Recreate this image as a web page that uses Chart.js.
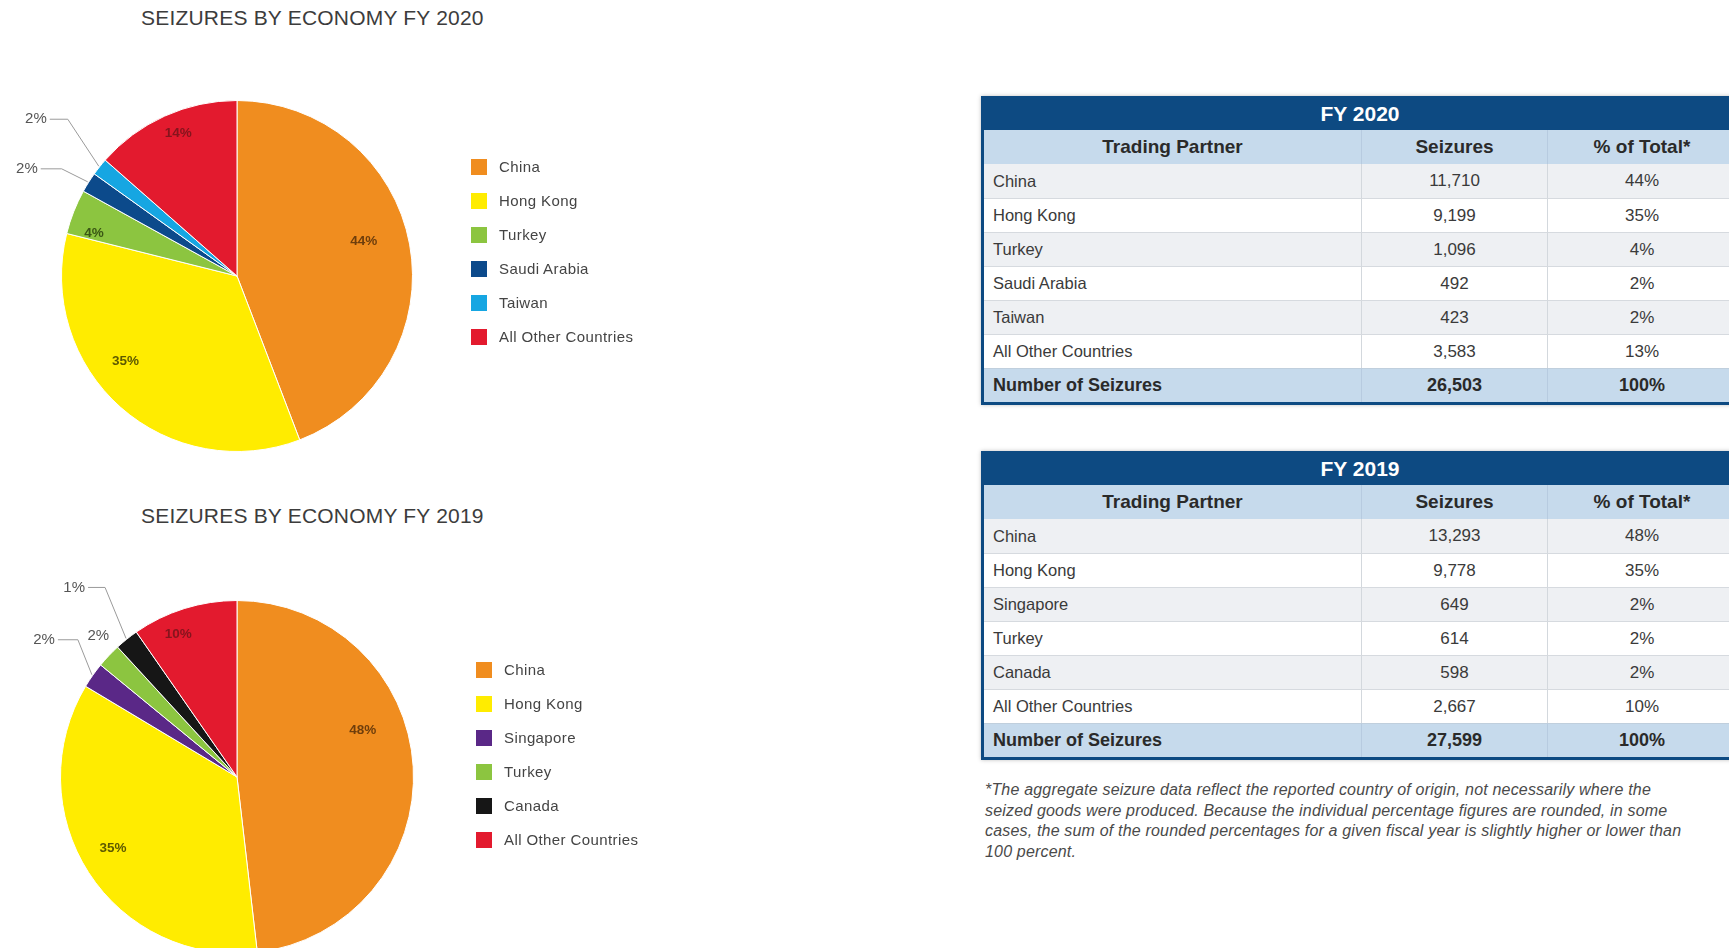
<!DOCTYPE html>
<html>
<head>
<meta charset="utf-8">
<script src="https://cdn.jsdelivr.net/npm/chart.js@4.4.1/dist/chart.umd.min.js"></script>
<style>
  html, body { margin:0; padding:0; width:1729px; height:948px; overflow:hidden; background:#ffffff; font-family:'Liberation Sans', Arial, sans-serif; }
  .abs { position:absolute; }
  .ptitle { position:absolute; font-size:21px; color:#3c3c3c; white-space:nowrap; letter-spacing:0.2px; line-height:24px; }
  .legend { position:absolute; }
  .legend .item { position:absolute; left:0; height:20px; white-space:nowrap; }
  .legend .sw { position:absolute; left:0; top:2px; width:16px; height:16px; }
  .legend .tx { position:absolute; left:28px; top:0; font-size:15px; line-height:20px; color:#444; letter-spacing:0.4px; }
  .tbl { position:absolute; left:981px; width:752px; display:grid; grid-template-columns:377px 186px 189px; border-left:3px solid #0d4a82; border-bottom:3px solid #0d4a82; box-shadow:0 0 4px rgba(0,0,0,0.25); box-sizing:border-box; }
  .tbl div { height:34px; box-sizing:border-box; display:flex; align-items:center; white-space:nowrap; }
  .tbl .cap { grid-column:1 / span 3; background:#0d4a82; color:#ffffff; font-weight:bold; font-size:21px; justify-content:center; padding-top:2px; }
  .tbl .c1 { padding-left:9px; font-size:16.5px; color:#3a3a3a; }
  .tbl .cn { justify-content:center; font-size:17px; color:#3a3a3a; border-left:1px solid #d3d8dd; }
  .tbl .hd { background:#c6daec; font-weight:bold; font-size:19px; color:#2a2a2a; justify-content:center; padding-left:0; }
  .tbl .hd.cn, .tbl .tot.cn { border-left:1px solid #b7cbe0; }
  .tbl .odd { background:#eef0f3; }
  .tbl .even { background:#ffffff; }
  .tbl .row { border-top:1px solid #d6dadf; }
  .tbl .tot { background:#c6daec; font-weight:bold; font-size:18px; color:#2a2a2a; border-top:1px solid #c0cfdd; }
  .note { position:absolute; left:985px; top:780px; font-style:italic; font-size:16px; letter-spacing:0.18px; line-height:20.7px; color:#4a4a4a; white-space:nowrap; }
</style>
</head>
<body>
<div class="ptitle" style="left:141px; top:6px;">SEIZURES BY ECONOMY FY 2020</div>
<div class="ptitle" style="left:141px; top:504px;">SEIZURES BY ECONOMY FY 2019</div>

<canvas id="pie2020" class="abs" width="480" height="560" style="left:0px; top:0px;"></canvas>
<canvas id="pie2019" class="abs" width="480" height="560" style="left:0px; top:480px;"></canvas>

<div id="legend2020" class="legend" style="left:471px; top:157px;"></div>
<div id="legend2019" class="legend" style="left:476px; top:660px;"></div>

<div id="table2020" class="tbl" style="top:96px;"></div>
<div id="table2019" class="tbl" style="top:451px;"></div>

<div class="note">*The aggregate seizure data reflect the reported country of origin, not necessarily where the<br>seized goods were produced. Because the individual percentage figures are rounded, in some<br>cases, the sum of the rounded percentages for a given fiscal year is slightly higher or lower than<br>100 percent.</div>

<script>
// ---------------- DATA ----------------
const categories2020 = ['China', 'Hong Kong', 'Turkey', 'Saudi Arabia', 'Taiwan', 'All Other Countries'];
const seizures2020   = [11710, 9199, 1096, 492, 423, 3583];
const tablePct2020   = ['44%', '35%', '4%', '2%', '2%', '13%'];
const pieLabels2020  = ['44%', '35%', '4%', '2%', '2%', '14%'];

const categories2019 = ['China', 'Hong Kong', 'Singapore', 'Turkey', 'Canada', 'All Other Countries'];
const seizures2019   = [13293, 9778, 649, 614, 598, 2667];
const tablePct2019   = ['48%', '35%', '2%', '2%', '2%', '10%'];
const pieLabels2019  = ['48%', '35%', '2%', '2%', '1%', '10%'];

const tableHeaders = ['Trading Partner', 'Seizures', '% of Total*'];
const totalLabel = 'Number of Seizures';
const totalPct = '100%';

// ---------------- STYLE ----------------
const colors2020 = ['#f08d1f', '#ffec00', '#8cc540', '#0c4a8b', '#16a6e2', '#e31a2e'];
const colors2019 = ['#f08d1f', '#ffec00', '#5a2887', '#8cc540', '#161616', '#e31a2e'];

const labelStyles2020 = [
  { mode:'in', f:0.75, da:-5,  color:'#6e3e0c' },
  { mode:'in', f:0.80, da:11,  color:'#5e5a00' },
  { mode:'in', f:0.85, da:-5,  color:'#3a5714' },
  { mode:'callout', dx:-26, dy:-13, hl:21, color:'#555' },
  { mode:'callout', dx:-31, dy:-47, hl:18, color:'#555' },
  { mode:'in', f:0.88, da:2,   color:'#85141d' }
];
const labelStyles2019 = [
  { mode:'in', f:0.76, da:-17, color:'#6e3e0c' },
  { mode:'in', f:0.81, da:3,   color:'#5e5a00' },
  { mode:'callout', dx:-14, dy:-35, hl:20, color:'#555' },
  { mode:'out', f:1.12, da:2,  color:'#555' },
  { mode:'callout', dx:-21, dy:-51, hl:17, color:'#555' },
  { mode:'in', f:0.875, da:-5, color:'#85141d' }
];

const sliceLabelPlugin = {
  id: 'sliceLabels',
  afterDatasetsDraw(chart, args, opts) {
    const ctx = chart.ctx;
    const meta = chart.getDatasetMeta(0);
    meta.data.forEach((arc, i) => {
      const s = opts.styles[i];
      const text = opts.labels[i];
      const p = arc.getProps(['x', 'y', 'startAngle', 'endAngle', 'outerRadius'], true);
      const mid0 = (p.startAngle + p.endAngle) / 2;
      ctx.save();
      ctx.fillStyle = s.color;
      if (s.mode === 'in' || s.mode === 'out') {
        const mid = mid0 + (s.da || 0) * Math.PI / 180;
        const r = p.outerRadius * s.f;
        ctx.font = (s.mode === 'in' ? 'bold 13.5px' : '15px') + " 'Liberation Sans', Arial, sans-serif";
        ctx.textAlign = 'center';
        ctx.textBaseline = 'middle';
        ctx.fillText(text, p.x + Math.cos(mid) * r, p.y + Math.sin(mid) * r);
      } else {
        const sx = p.x + Math.cos(mid0) * (p.outerRadius + 1);
        const sy = p.y + Math.sin(mid0) * (p.outerRadius + 1);
        const ex = sx + s.dx, ey = sy + s.dy;
        ctx.strokeStyle = '#9a9a9a';
        ctx.lineWidth = 1;
        ctx.beginPath();
        ctx.moveTo(sx, sy);
        ctx.lineTo(ex, ey);
        ctx.lineTo(ex - s.hl, ey);
        ctx.stroke();
        ctx.font = "15px 'Liberation Sans', Arial, sans-serif";
        ctx.textAlign = 'right';
        ctx.textBaseline = 'middle';
        ctx.fillText(text, ex - s.hl - 3, ey);
      }
      ctx.restore();
    });
  }
};

function makePie(id, cats, vals, colors, labels, styles, padding) {
  new Chart(document.getElementById(id), {
    type: 'pie',
    data: {
      labels: cats,
      datasets: [{ data: vals, backgroundColor: colors, borderColor: '#ffffff', borderWidth: 1 }]
    },
    options: {
      responsive: false,
      animation: false,
      layout: { padding: padding },
      plugins: {
        legend: { display: false },
        tooltip: { enabled: false },
        sliceLabels: { labels: labels, styles: styles }
      }
    },
    plugins: [sliceLabelPlugin]
  });
}

makePie('pie2020', categories2020, seizures2020, colors2020, pieLabels2020, labelStyles2020,
        { left: 61, right: 67, top: 100, bottom: 108 });
makePie('pie2019', categories2019, seizures2019, colors2019, pieLabels2019, labelStyles2019,
        { left: 60, right: 66, top: 120, bottom: 86 });

function makeLegend(id, cats, colors) {
  const el = document.getElementById(id);
  cats.forEach((c, i) => {
    const item = document.createElement('div');
    item.className = 'item';
    item.style.top = (i * 34) + 'px';
    item.innerHTML = '<div class="sw" style="background:' + colors[i] + '"></div><div class="tx">' + c + '</div>';
    el.appendChild(item);
  });
}
makeLegend('legend2020', categories2020, colors2020);
makeLegend('legend2019', categories2019, colors2019);

function fmt(n) { return n.toLocaleString('en-US'); }

function makeTable(id, year, cats, vals, pcts) {
  const el = document.getElementById(id);
  let h = '<div class="cap">FY ' + year + '</div>';
  h += '<div class="hd">' + tableHeaders[0] + '</div><div class="hd cn">' + tableHeaders[1] + '</div><div class="hd cn">' + tableHeaders[2] + '</div>';
  cats.forEach((c, i) => {
    const cls = (i % 2 === 0 ? 'odd' : 'even') + (i > 0 ? ' row' : '');
    h += '<div class="c1 ' + cls + '">' + c + '</div>';
    h += '<div class="cn ' + cls + '">' + fmt(vals[i]) + '</div>';
    h += '<div class="cn ' + cls + '">' + pcts[i] + '</div>';
  });
  const total = vals.reduce((a, b) => a + b, 0);
  h += '<div class="c1 tot">' + totalLabel + '</div><div class="cn tot">' + fmt(total) + '</div><div class="cn tot">' + totalPct + '</div>';
  el.innerHTML = h;
}
makeTable('table2020', 2020, categories2020, seizures2020, tablePct2020);
makeTable('table2019', 2019, categories2019, seizures2019, tablePct2019);
</script>
</body>
</html>
